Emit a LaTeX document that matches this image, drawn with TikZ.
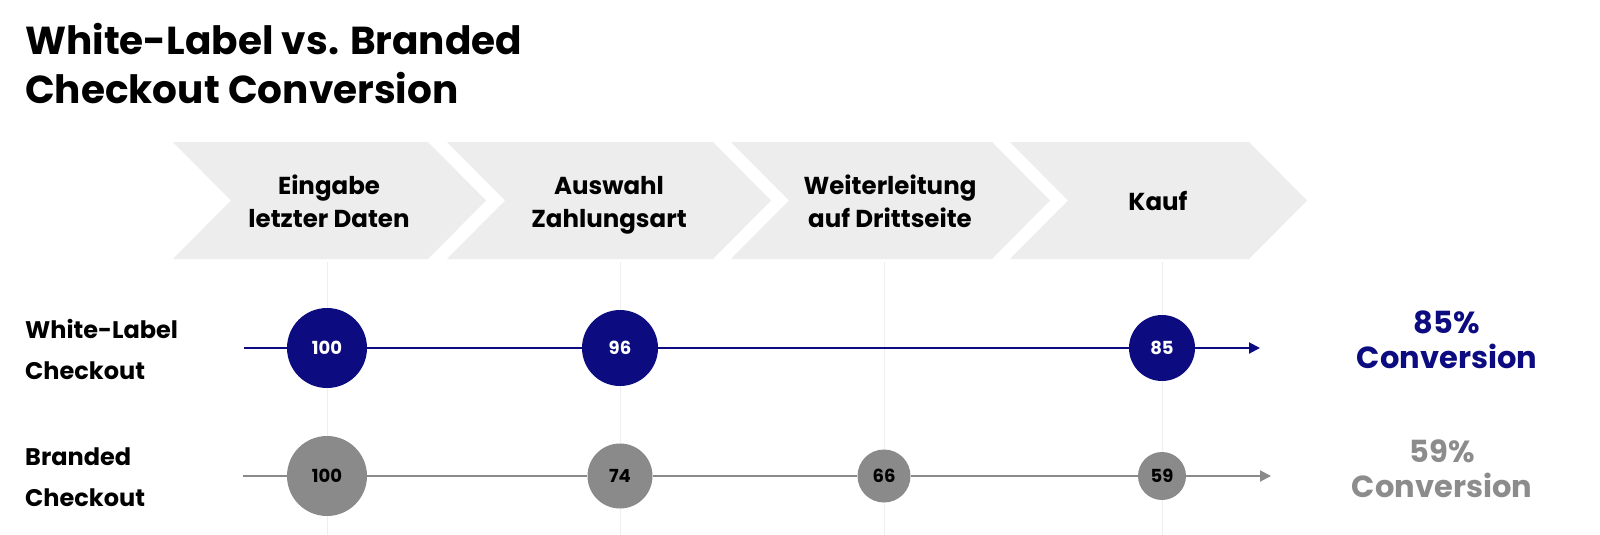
\documentclass[tikz,border=0pt]{standalone}
\usepackage{fontspec}
\setmainfont{Poppins}
\usetikzlibrary{arrows.meta}
\definecolor{navyc}{RGB}{12,12,128}
\definecolor{greyc}{RGB}{138,138,138}
\definecolor{greytext}{RGB}{140,140,140}
\definecolor{chevc}{RGB}{237,237,237}
\definecolor{gridc}{RGB}{238,238,238}
\tikzset{
 chevtext/.style={anchor=base, font=\bfseries\fontsize{24.5}{28}\selectfont, inner sep=0pt},
 rowlabel/.style={anchor=base west, font=\bfseries\fontsize{24}{28}\selectfont, inner sep=0pt},
 titletext/.style={anchor=base west, font=\bfseries\fontsize{39}{46}\selectfont, inner sep=0pt},
 convtext/.style={anchor=base, font=\bfseries\fontsize{30.5}{34}\selectfont, inner sep=0pt},
 navydot/.style={circle, fill=navyc, text=white, inner sep=0pt, font=\bfseries\fontsize{18}{20}\selectfont},
 greydot/.style={circle, fill=greyc, text=black, inner sep=0pt, font=\bfseries\fontsize{18}{20}\selectfont},
 navyline/.style={draw=navyc, line width=2pt},
 greyline/.style={draw=greyc, line width=2pt},
 gridline/.style={draw=gridc, line width=1pt},
}
\begin{document}
\begin{tikzpicture}[x=1pt,y=-1pt]
\useasboundingbox[fill=white] (0,0) rectangle (1600,535);
% grid lines
\foreach \gx in {327,620,884,1162} \draw[gridline] (\gx,262) -- (\gx,535);
% chevrons
\foreach \L/\R in {173/428,447/713,731/992,1010/1249}
  \fill[chevc] (\L,142) -- (\R,142) -- (\R+58,200.5) -- (\R,259) -- (\L,259) -- (\L+58,200.5) -- cycle;
% title
\node[titletext] (t1) at (25,55) {White-Label vs. Branded};
\node[titletext] (t2) at (25,103) {Checkout Conversion};
% chevron texts
\node[chevtext] (c1a) at (329,194) {Eingabe};
\node[chevtext] (c1b) at (329,227) {letzter Daten};
\node[chevtext] (c2a) at (609,194) {Auswahl};
\node[chevtext] (c2b) at (609,227) {Zahlungsart};
\node[chevtext] (c3a) at (890,194) {Weiterleitung};
\node[chevtext] (c3b) at (890,227) {auf Drittseite};
\node[chevtext] (c4a) at (1158,210) {Kauf};
% row labels
\node[rowlabel] (r1a) at (25,338) {White-Label};
\node[rowlabel] (r1b) at (25,379) {Checkout};
\node[rowlabel] (r2a) at (25,465) {Branded};
\node[rowlabel] (r2b) at (25,506) {Checkout};
% conversion labels
\node[convtext, text=navyc] (v1a) at (1447,333) {85\%};
\node[convtext, text=navyc] (v1b) at (1447,368) {Conversion};
\node[convtext, text=greytext] (v2a) at (1442,462) {59\%};
\node[convtext, text=greytext] (v2b) at (1442,497) {Conversion};
% white-label row
\coordinate (ws) at (244,348);
\coordinate (we) at (1260,348);
\node[navydot, minimum size=80pt] (w1) at (327,348) {100};
\node[navydot, minimum size=76pt] (w2) at (620,348) {96};
\node[navydot, minimum size=66pt] (w3) at (1162,348) {85};
\draw[navyline] (ws) -- (w1);
\draw[navyline] (w1) -- (w2);
\draw[navyline] (w2) -- (w3);
\draw[navyline, -{Triangle[length=11pt,width=11pt]}] (w3) -- (we);
% branded row
\coordinate (bs) at (243,476);
\coordinate (be) at (1271,476);
\node[greydot, minimum size=80pt] (b1) at (327,476) {100};
\node[greydot, minimum size=65pt] (b2) at (620,476) {74};
\node[greydot, minimum size=53pt] (b3) at (884,476) {66};
\node[greydot, minimum size=48pt] (b4) at (1162,476) {59};
\draw[greyline] (bs) -- (b1);
\draw[greyline] (b1) -- (b2);
\draw[greyline] (b2) -- (b3);
\draw[greyline] (b3) -- (b4);
\draw[greyline, -{Triangle[length=11pt,width=11pt]}] (b4) -- (be);
\end{tikzpicture}
\end{document}
